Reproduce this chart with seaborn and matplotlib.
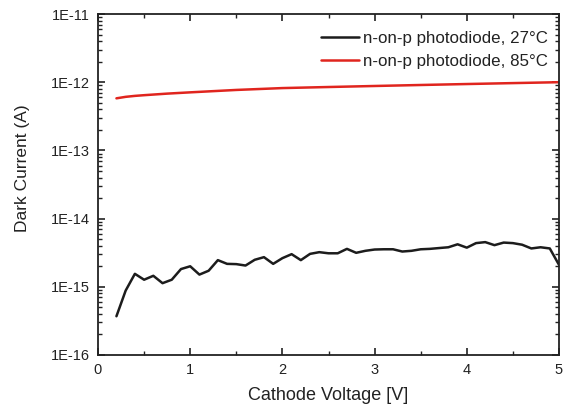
import numpy as np
import pandas as pd
import matplotlib
matplotlib.use("Agg")
import matplotlib.pyplot as plt
import matplotlib.ticker as mticker
import seaborn as sns

# Data
voltage_27 = [0.2, 0.3, 0.4, 0.5, 0.6, 0.7, 0.8, 0.9, 1.0, 1.1, 1.2, 1.3, 1.4, 1.5, 1.6, 1.7,
              1.8, 1.9, 2.0, 2.1, 2.2, 2.3, 2.4, 2.5, 2.6, 2.7, 2.8, 2.9, 3.0, 3.1, 3.2, 3.3,
              3.4, 3.5, 3.6, 3.7, 3.8, 3.9, 4.0, 4.1, 4.2, 4.3, 4.4, 4.5, 4.6, 4.7, 4.8, 4.9, 5.0]
current_27 = [3.7e-16, 8.8e-16, 1.55e-15, 1.27e-15, 1.45e-15, 1.13e-15, 1.27e-15, 1.82e-15,
              2.0e-15, 1.51e-15, 1.72e-15, 2.46e-15, 2.17e-15, 2.15e-15, 2.05e-15, 2.49e-15,
              2.72e-15, 2.17e-15, 2.63e-15, 3.01e-15, 2.46e-15, 3.04e-15, 3.22e-15, 3.1e-15,
              3.1e-15, 3.6e-15, 3.15e-15, 3.37e-15, 3.52e-15, 3.55e-15, 3.55e-15, 3.29e-15,
              3.37e-15, 3.55e-15, 3.6e-15, 3.7e-15, 3.8e-15, 4.2e-15, 3.75e-15, 4.37e-15,
              4.52e-15, 4.08e-15, 4.45e-15, 4.37e-15, 4.14e-15, 3.65e-15, 3.8e-15, 3.65e-15,
              2.1e-15]

voltage_85 = [0.2, 0.3, 0.4, 0.5, 0.75, 1.0, 1.5, 2.0, 2.5, 3.0, 3.5, 4.0, 4.5, 5.0]
current_85 = [5.8e-13, 6.1e-13, 6.3e-13, 6.45e-13, 6.8e-13, 7.1e-13, 7.7e-13, 8.2e-13,
              8.5e-13, 8.8e-13, 9.1e-13, 9.4e-13, 9.7e-13, 1.0e-12]

y_ticks = [1e-16, 1e-15, 1e-14, 1e-13, 1e-12, 1e-11]
y_tick_labels = ["1E-16", "1E-15", "1E-14", "1E-13", "1E-12", "1E-11"]
x_ticks = [0, 1, 2, 3, 4, 5]

label_27 = "n-on-p photodiode, 27°C"
label_85 = "n-on-p photodiode, 85°C"
x_label = "Cathode Voltage [V]"
y_label = "Dark Current (A)"

df = pd.concat([
    pd.DataFrame({"V": voltage_27, "I": current_27, "series": label_27}),
    pd.DataFrame({"V": voltage_85, "I": current_85, "series": label_85}),
], ignore_index=True)

sns.set_theme(style="ticks")
plt.rcParams["font.family"] = ["Liberation Sans", "DejaVu Sans"]

fig = plt.figure(figsize=(5.64, 4.08), dpi=100)
ax = fig.add_axes([98 / 564, 1 - 355 / 408, (559 - 98) / 564, (355 - 14) / 408])

sns.lineplot(data=df, x="V", y="I", hue="series",
             palette={label_27: "#1c1c1c", label_85: "#e0251e"},
             linewidth=1.8, ax=ax, estimator=None, sort=False)

ax.set_yscale("log")
ax.set_xlim(0, 5)
ax.set_ylim(1e-16, 1e-11)
ax.set_xticks(x_ticks)
ax.xaxis.set_minor_locator(mticker.MultipleLocator(0.5))
minor_y = [m * 10.0 ** e for e in range(-16, -11) for m in range(2, 10)]
ax.yaxis.set_major_locator(mticker.FixedLocator(y_ticks))
ax.yaxis.set_major_formatter(mticker.FixedFormatter(y_tick_labels))
ax.yaxis.set_minor_locator(mticker.FixedLocator(minor_y))
ax.yaxis.set_minor_formatter(mticker.NullFormatter())

ax.tick_params(axis="both", which="both", direction="in", top=True, right=True,
               colors="#222222", labelcolor="#222222")
ax.tick_params(axis="both", which="major", length=5, width=1.2, labelsize=10.5, pad=6)
ax.tick_params(axis="both", which="minor", length=3, width=1.0)
for s in ax.spines.values():
    s.set_linewidth(1.3)
    s.set_color("#222222")

ax.set_xlabel(x_label, fontsize=13, color="#222222", labelpad=7)
ax.set_ylabel(y_label, fontsize=12.5, color="#222222")
ax.yaxis.set_label_coords(-0.147, 0.548)

leg = ax.legend(loc="upper right", frameon=False, fontsize=12.2, handlelength=2.2,
                handletextpad=0.25, labelspacing=0.48, borderaxespad=0.0,
                bbox_to_anchor=(0.99, 0.97))
for t in leg.get_texts():
    t.set_color("#222222")

fig.savefig("out.png", dpi=100)
